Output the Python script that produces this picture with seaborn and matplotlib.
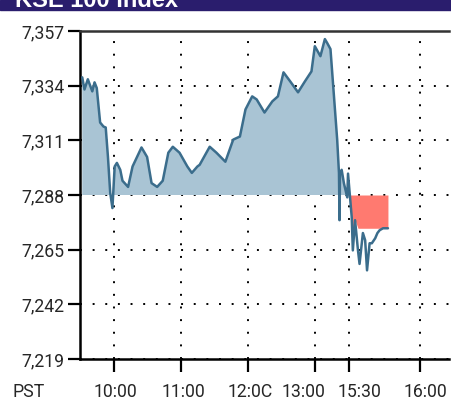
import numpy as np
import pandas as pd
import matplotlib
matplotlib.use("Agg")
import matplotlib.pyplot as plt
import matplotlib.transforms as mtransforms
import seaborn as sns

# Intraday KSE 100 readings (x = minutes on the chart's compressed time scale)
minutes = [2, 4, 7, 11, 13, 15, 18, 21, 23, 25, 27, 29, 31, 33, 36, 38, 43, 47,
           51, 55, 60, 64, 69, 74, 79, 83, 89, 96, 100, 105, 107, 116, 122, 130,
           137, 143, 148, 154, 158, 165, 172, 177, 182, 188, 195, 201, 207, 210,
           215, 219, 221, 224, 226, 230, 231.6, 232.1, 232.5, 234, 236, 239,
           239.7, 241.5, 243, 244, 246, 248.6, 250, 253, 255, 256.7, 259, 261,
           264, 266, 268, 271, 275.4]
index_values = [7337.5, 7332.4, 7336.7, 7331.6, 7335.4, 7333, 7318.5, 7316.8,
                7316.4, 7304, 7289, 7282.5, 7300, 7301.5, 7298.6, 7294, 7291.4,
                7300, 7304, 7308, 7304, 7293, 7291.4, 7294, 7305.8, 7308.3,
                7305.8, 7300, 7297.3, 7300, 7300.7, 7308.3, 7305.8, 7302,
                7311.3, 7312.6, 7324, 7329.5, 7328.2, 7322.7, 7327.4, 7329.5,
                7339.6, 7335.8, 7331.2, 7335.7, 7340, 7350.6, 7346.4, 7353.6,
                7352, 7349.4, 7336.7, 7311.3, 7297.3, 7277.4, 7297, 7298.6,
                7293, 7287, 7297, 7287, 7278.7, 7264.7, 7277.4, 7264.7, 7259,
                7272, 7269, 7256.3, 7267.7, 7267.7, 7269.8, 7272, 7273.2, 7274,
                7274]
prev_close = 7288
red_floor = 7274
red_start = 241.5

y_ticks = [7219, 7242, 7265, 7288, 7311, 7334, 7357]
x_tick_pos = [30, 90, 150, 210, 241, 304]
x_tick_labels = ["10:00", "11:00", "12:0C", "13:00", "15:30", "16:00"]
# small horizontal nudges (px) so the crowded labels sit as in the original
x_label_shift = [2, 3, 2, -11, 10, 6]

df = pd.DataFrame({"minute": minutes, "value": index_values})

sns.set_style("white")
plt.rcParams["font.family"] = ["Roboto", "DejaVu Sans"]

fig = plt.figure(figsize=(4.51, 4.04), dpi=100)
ax = fig.add_axes([80 / 451, 45 / 404, 369 / 451, 328 / 404])

x = df["minute"].to_numpy()
y = df["value"].to_numpy()

# blue area above the previous close
ax.fill_between(x, y, prev_close, where=y >= prev_close, interpolate=True,
                color="#a9c4d4", linewidth=0, zorder=1)
# red block below the previous close after the break
mask = x >= red_start
ax.fill_between(x[mask], prev_close, np.maximum(y[mask], red_floor),
                color="#ff7a70", linewidth=0, zorder=1)

sns.lineplot(data=df, x="minute", y="value", ax=ax, color="#3b6d8c",
             linewidth=1.8, zorder=3)

ax.set_xlim(0, 330)
ax.set_ylim(7219, 7357)
ax.set_yticks(y_ticks)
ax.set_yticklabels([f"{v:,}" for v in y_ticks])
ax.set_xticks(x_tick_pos)
ax.set_xticklabels(x_tick_labels)
ax.set_xlabel("")
ax.set_ylabel("")

ax.grid(True, color="black", linestyle=(0, (1, 5.5)), linewidth=1.4)
for line in ax.get_xgridlines() + ax.get_ygridlines():
    line.set_zorder(2)

for side in ["left", "bottom", "top"]:
    ax.spines[side].set_color("black")
    ax.spines[side].set_linewidth(1.8)
ax.spines["right"].set_visible(False)
ax.spines["top"].set_color("#333333")

ax.tick_params(axis="both", which="both", direction="out", length=9, width=1.6,
               color="black", labelsize=12.7, pad=2, left=True, bottom=True)
ax.tick_params(axis="x", pad=8)

for lab, dx in zip(ax.get_xticklabels(), x_label_shift):
    lab.set_transform(lab.get_transform() +
                      mtransforms.ScaledTranslation(dx / 100, 0, fig.dpi_scale_trans))

fig.text(13 / 451, 12 / 404, "PST", fontsize=12.7, ha="left", va="center")

# header band with the cut-off title
fig.patches.append(plt.Rectangle((0, 1 - 10 / 404), 1, 10 / 404,
                                 transform=fig.transFigure, color="#2a1d6d",
                                 zorder=0))
fig.text(15 / 451, 1 - 7 / 404, "KSE 100 Index", fontsize=17, fontweight="bold",
         family=["Liberation Sans", "DejaVu Sans"],
         color="white", ha="left", va="baseline")

fig.savefig("out.png", dpi=100)
